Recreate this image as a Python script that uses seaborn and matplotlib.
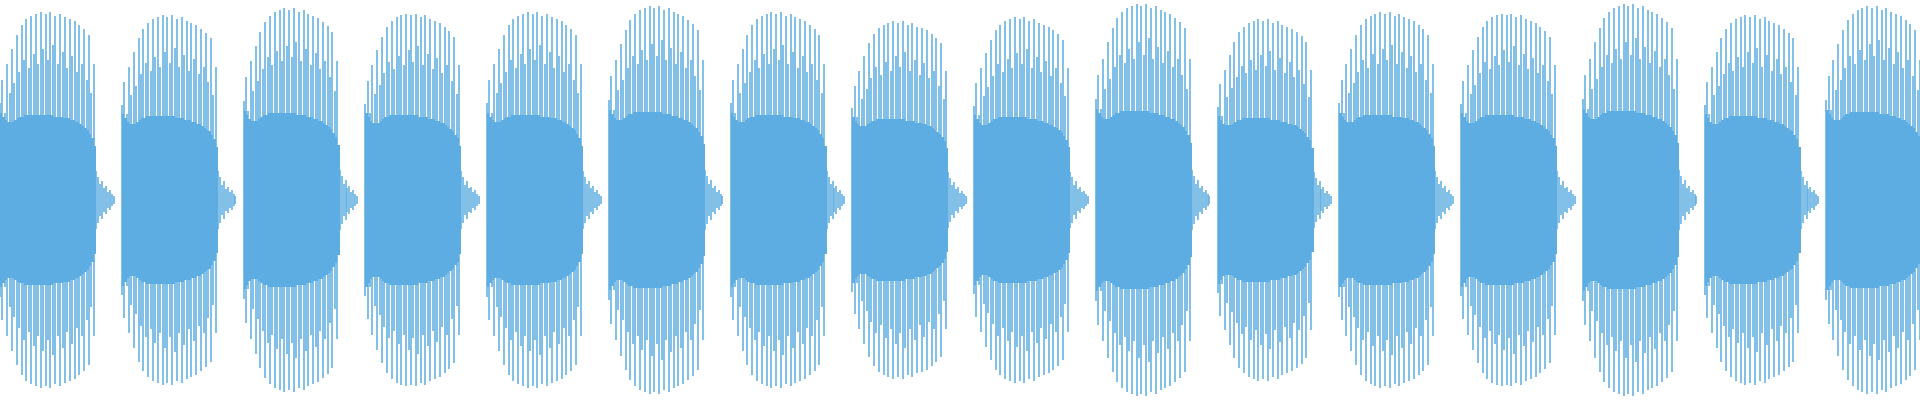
import numpy as np
import pandas as pd
import matplotlib
matplotlib.use("Agg")
import matplotlib.pyplot as plt
import seaborn as sns

# Burst onset times (one period = 1.0) and per-burst amplitude scale
burst_starts = [0, 1, 2, 3, 4, 5, 6, 7, 8, 9, 10, 11, 12, 13, 14, 15]
burst_scale = [1.0, 0.98, 1.02, 0.99, 1.0, 1.03, 1.0, 0.95, 0.97, 1.04, 0.96, 1.0, 0.99, 1.04, 0.98, 1.03]

# Tall spike heights within one burst (fraction of full scale)
spike_heights = [0.50, 0.62, 0.45, 0.70, 0.55, 0.78, 0.60, 0.85, 0.66, 0.90,
                 0.72, 0.93, 0.68, 0.95, 0.75, 0.96, 0.70, 0.97, 0.78, 0.96,
                 0.72, 0.97, 0.80, 0.95, 0.70, 0.96, 0.76, 0.94, 0.68, 0.93,
                 0.74, 0.92, 0.66, 0.90, 0.70, 0.88, 0.62, 0.85, 0.55, 0.70]
# Dense body envelope within one burst
body_heights = [0.45, 0.43, 0.41, 0.40, 0.40, 0.40, 0.41, 0.42, 0.43, 0.43,
                0.44, 0.44, 0.44, 0.44, 0.44, 0.44, 0.44, 0.44, 0.44, 0.44,
                0.44, 0.44, 0.43, 0.43, 0.43, 0.43, 0.42, 0.42, 0.42, 0.41,
                0.41, 0.40, 0.40, 0.39, 0.38, 0.37, 0.36, 0.34, 0.32, 0.28]
# Decaying tail after each burst
tail_heights = [0.15, 0.12, 0.08, 0.10, 0.06, 0.07, 0.04, 0.05, 0.03, 0.02]

burst_len = 0.79
tail_len = 0.16
color = "#5dade2"

sns.set_style("white")
fig = plt.figure(figsize=(19.2, 4), dpi=100)
ax = fig.add_axes([0, 0, 1, 1])

n = len(spike_heights)
rows = []
for s, k in zip(burst_starts, burst_scale):
    for i in range(n):
        t = s + burst_len * i / n
        rows.append((t, spike_heights[i] * k, body_heights[i] * k, "burst"))
    for j, h in enumerate(tail_heights):
        t = s + burst_len + tail_len * j / len(tail_heights)
        rows.append((t, h * k, h * k, "tail"))
df = pd.DataFrame(rows, columns=["t", "spike", "body", "kind"])

b = df[df.kind == "burst"]
ax.vlines(b.t, -b.spike, b.spike, color=color, lw=1.1)
for s, k in zip(burst_starts, burst_scale):
    seg = b[(b.t >= s) & (b.t < s + 1)]
    ax.fill_between(list(seg.t) + [s + burst_len], list(-seg.body) + [-seg.body.iloc[-1]],
                    list(seg.body) + [seg.body.iloc[-1]], step="post", color=color, lw=0)
tl = df[df.kind == "tail"]
ax.vlines(tl.t, -tl.spike, tl.spike, color=color, lw=1.1)

ax.set_xlim(0, 15.77)
ax.set_ylim(-1.03, 1.03)
ax.axis("off")
sns.despine(left=True, bottom=True)
fig.savefig("out.png", dpi=100)
